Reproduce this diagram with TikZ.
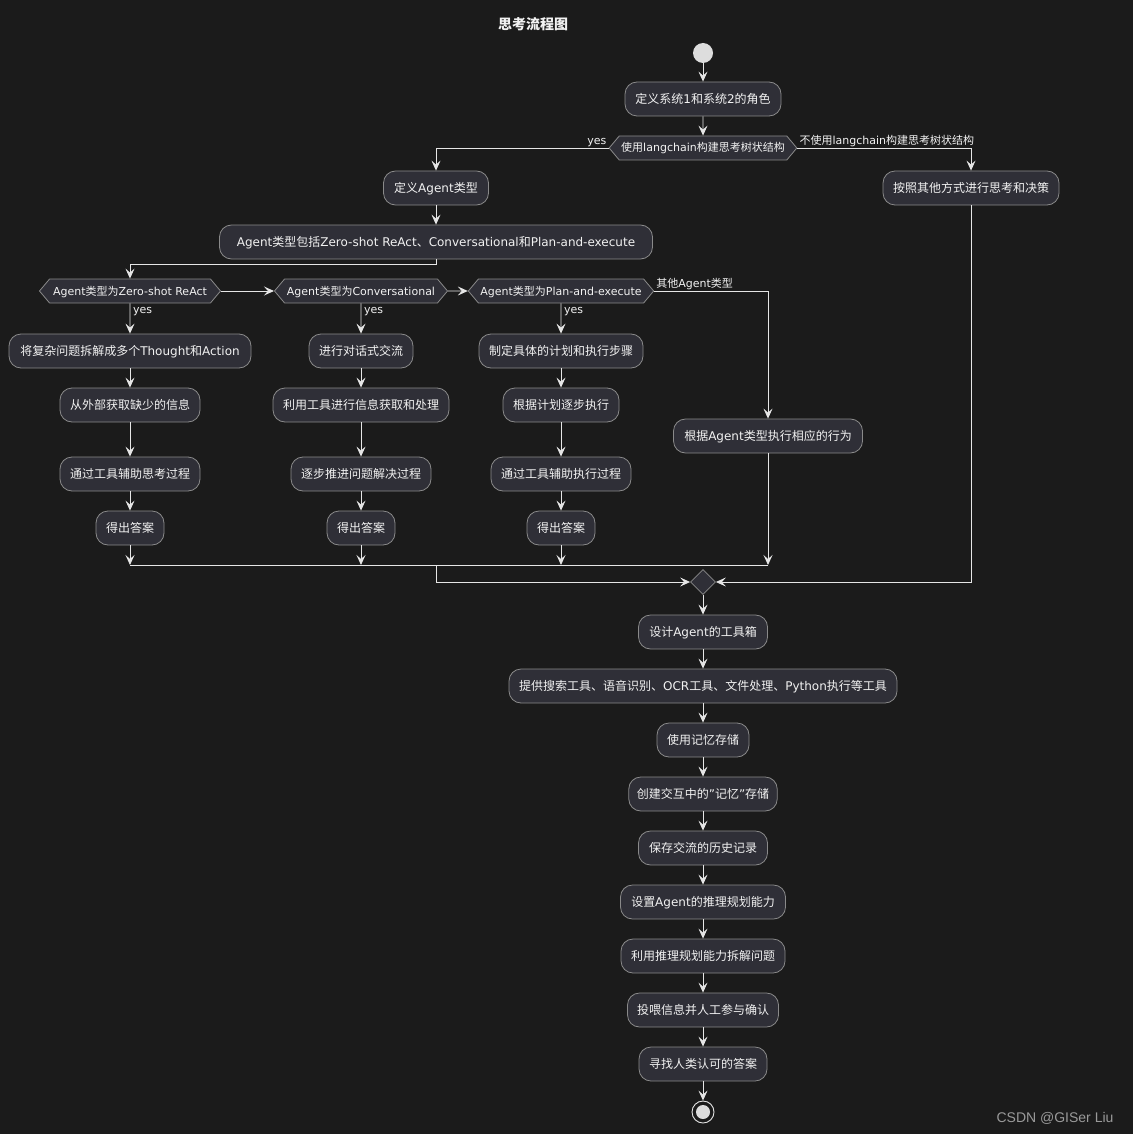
\documentclass[tikz,border=0pt]{standalone}
\usepackage{fontspec}
\setmainfont{DejaVu Sans}
\newfontfamily\cj{Noto Sans CJK SC}
\newfontfamily\wmfont{Liberation Sans}
\usetikzlibrary{shapes.geometric,shapes.symbols,arrows.meta}
% automatic switch to the CJK font for CJK characters
\chardef\cjkcls=9
\newcount\cjcnt
\cjcnt="3000
\loop
 \XeTeXcharclass\cjcnt=\cjkcls
 \advance\cjcnt by 1
\ifnum\cjcnt<"3040 \repeat
\cjcnt="4E00
\loop
 \XeTeXcharclass\cjcnt=\cjkcls
 \advance\cjcnt by 1
\ifnum\cjcnt<"A000 \repeat
\cjcnt="FF00
\loop
 \XeTeXcharclass\cjcnt=\cjkcls
 \advance\cjcnt by 1
\ifnum\cjcnt<"FFF0 \repeat
\XeTeXinterchartoks 0 \cjkcls = {\cj}
\XeTeXinterchartoks 4095 \cjkcls = {\cj}
\XeTeXinterchartoks \cjkcls 0 = {\rmfamily}
\XeTeXinterchartoks \cjkcls 4095 = {\rmfamily}
\XeTeXinterchartokenstate=1
\definecolor{bg}{HTML}{1B1B1B}
\definecolor{boxfill}{HTML}{2F2F37}
\definecolor{boxline}{HTML}{8A8A8A}
\definecolor{lin}{HTML}{E6E6E6}
\definecolor{txt}{HTML}{F2F2F2}
\definecolor{startc}{HTML}{DDDDDD}
\definecolor{wm}{HTML}{9A9A9A}
\tikzset{
 act/.style={draw=boxline, fill=boxfill, rounded corners=12pt, minimum height=34pt, inner xsep=8pt, text height=10.5pt, text depth=1.5pt, text=txt, font=\fontsize{12}{14}\selectfont, line width=0.8pt},
 hexa/.style={draw=boxline, fill=boxfill, shape=signal, signal to=west and east, signal pointer angle=100, minimum height=24pt, inner xsep=2pt, inner ysep=2pt, text height=9.5pt, text depth=1.5pt, text=txt, font=\fontsize{11}{13}\selectfont, line width=0.8pt},
 conn/.style={draw=lin, line width=0.9pt, -{Stealth[length=10pt,width=9pt,inset=4pt]}},
 wire/.style={draw=lin, line width=0.9pt},
 lbl/.style={text=txt, font=\fontsize{11}{13}\selectfont, inner sep=1pt},
}
\begin{document}
\begin{tikzpicture}[x=1pt,y=-1pt]
\fill[bg] (0,0) rectangle (1133,1134);
\useasboundingbox (0,0) rectangle (1133,1134);

\node[text=txt, font=\bfseries\fontsize{14}{16}\selectfont] (title) at (533,24) {思考流程图};

\node[circle, fill=startc, minimum size=20pt, inner sep=0pt] (s) at (703,53) {};
\node[act, minimum width=156pt] (a1) at (703,99) {定义系统1和系统2的角色};
\node[hexa, minimum width=183pt] (d1) at (703,148) {使用langchain构建思考树状结构};
\node[act, minimum width=105pt] (b1) at (436,188) {定义Agent类型};
\node[act, minimum width=176pt] (r1) at (971,188) {按照其他方式进行思考和决策};
\node[act, minimum width=433pt] (b2) at (436,242) {Agent类型包括Zero-shot ReAct、Conversational和Plan-and-execute};

\node[hexa, minimum width=181pt] (h1) at (130,291) {Agent类型为Zero-shot ReAct};
\node[hexa, minimum width=173pt] (h2) at (361,291) {Agent类型为Conversational};
\node[hexa, minimum width=185pt] (h3) at (561,291) {Agent类型为Plan-and-execute};

\node[act, minimum width=242pt] (p11) at (130,351) {将复杂问题拆解成多个Thought和Action};
\node[act, minimum width=140pt] (p12) at (130,405) {从外部获取缺少的信息};
\node[act, minimum width=140pt] (p13) at (130,474) {通过工具辅助思考过程};
\node[act, minimum width=68pt] (p14) at (130,528) {得出答案};

\node[act, minimum width=104pt] (p21) at (361,351) {进行对话式交流};
\node[act, minimum width=176pt] (p22) at (361,405) {利用工具进行信息获取和处理};
\node[act, minimum width=140pt] (p23) at (361,474) {逐步推进问题解决过程};
\node[act, minimum width=68pt] (p24) at (361,528) {得出答案};

\node[act, minimum width=164pt] (p31) at (561,351) {制定具体的计划和执行步骤};
\node[act, minimum width=116pt] (p32) at (561,405) {根据计划逐步执行};
\node[act, minimum width=140pt] (p33) at (561,474) {通过工具辅助执行过程};
\node[act, minimum width=68pt] (p34) at (561,528) {得出答案};

\node[act, minimum width=189pt] (o1) at (768,436) {根据Agent类型执行相应的行为};

\coordinate (m1) at (130,565);
\coordinate (m2) at (361,565);
\coordinate (m3) at (561,565);
\coordinate (m4) at (768,565);
\coordinate (m0) at (436,565);

\node[diamond, draw=boxline, fill=boxfill, minimum size=25pt, inner sep=0pt, line width=0.8pt] (mg) at (703,582) {};

\node[act, minimum width=129pt] (q1) at (703,632) {设计Agent的工具箱};
\node[act, minimum width=388pt] (q2) at (703,686) {提供搜索工具、语音识别、OCR工具、文件处理、Python执行等工具};
\node[act, minimum width=92pt] (q3) at (703,740) {使用记忆存储};
\node[act, minimum width=148pt] (q4) at (703,794) {创建交互中的"记忆"存储};
\node[act, minimum width=129pt] (q5) at (703,848) {保存交流的历史记录};
\node[act, minimum width=165pt] (q6) at (703,902) {设置Agent的推理规划能力};
\node[act, minimum width=164pt] (q7) at (703,956) {利用推理规划能力拆解问题};
\node[act, minimum width=151pt] (q8) at (703,1010) {投喂信息并人工参与确认};
\node[act, minimum width=128pt] (q9) at (703,1064) {寻找人类认可的答案};

\node[circle, draw=lin, fill=bg, line width=0.9pt, minimum size=22pt, inner sep=0pt] (e) at (703,1112) {};
\fill[startc] (e.center) circle (7pt);

% connectors
\draw[conn] (s) -- (a1);
\draw[conn] (a1) -- (d1);
\draw[conn] (d1.west) -| (b1);
\node[lbl, anchor=south east] (ly) at ([xshift=-1pt]d1.west) {yes};
\draw[conn] (d1.east) -| (r1);
\node[lbl, anchor=south west] (ln) at ([xshift=1pt]d1.east) {不使用langchain构建思考树状结构};
\draw[conn] (b1) -- (b2);
\draw[conn] (b2.south) -- ++(0,5) -| (h1.north);
\draw[conn] (h1) -- (h2);
\draw[conn] (h2) -- (h3);
\draw[conn] (h3.east) -| (o1);
\node[lbl, anchor=south west] (lo) at ([xshift=1pt]h3.east) {其他Agent类型};

\node[lbl, anchor=north west] (y1) at ([xshift=2pt,yshift=-2.5pt]h1.south) {yes};
\node[lbl, anchor=north west] (y2) at ([xshift=2pt,yshift=-2.5pt]h2.south) {yes};
\node[lbl, anchor=north west] (y3) at ([xshift=2pt,yshift=-2.5pt]h3.south) {yes};

\draw[conn] (h1) -- (p11);
\draw[conn] (p11) -- (p12);
\draw[conn] (p12) -- (p13);
\draw[conn] (p13) -- (p14);
\draw[conn] (p14) -- (m1);

\draw[conn] (h2) -- (p21);
\draw[conn] (p21) -- (p22);
\draw[conn] (p22) -- (p23);
\draw[conn] (p23) -- (p24);
\draw[conn] (p24) -- (m2);

\draw[conn] (h3) -- (p31);
\draw[conn] (p31) -- (p32);
\draw[conn] (p32) -- (p33);
\draw[conn] (p33) -- (p34);
\draw[conn] (p34) -- (m3);

\draw[conn] (o1) -- (m4);
\draw[wire] (m1) -- (m4);
\draw[conn] (m0) |- (mg);
\draw[conn] (r1) |- (mg);

\draw[conn] (mg) -- (q1);
\draw[conn] (q1) -- (q2);
\draw[conn] (q2) -- (q3);
\draw[conn] (q3) -- (q4);
\draw[conn] (q4) -- (q5);
\draw[conn] (q5) -- (q6);
\draw[conn] (q6) -- (q7);
\draw[conn] (q7) -- (q8);
\draw[conn] (q8) -- (q9);
\draw[conn] (q9) -- (e);

\node[text=wm, font=\wmfont\fontsize{14}{16}\selectfont, anchor=east] (wmk) at (1117,1118) {CSDN @GISer Liu};
\end{tikzpicture}
\end{document}
